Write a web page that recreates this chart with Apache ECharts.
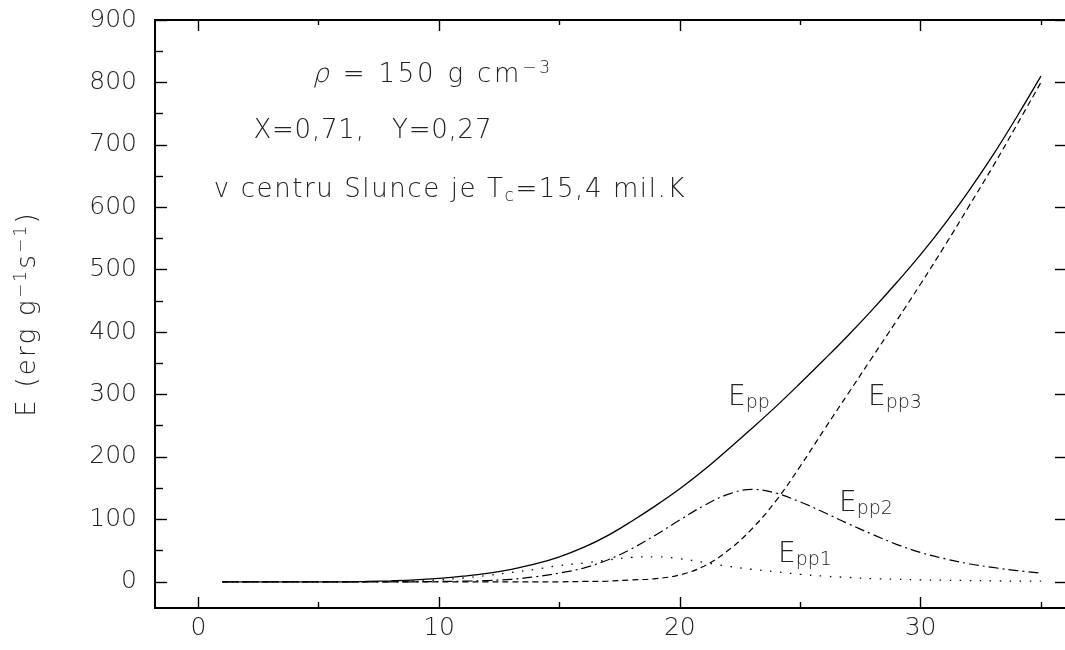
<!DOCTYPE html>
<html>
<head>
<meta charset="utf-8">
<script src="https://cdn.jsdelivr.net/npm/echarts@6/dist/echarts.min.js"></script>
<style>
  html, body { margin: 0; padding: 0; background: #fff; }
  #main { width: 1065px; height: 650px; }
</style>
</head>
<body>
<div id="main"></div>
<script>
  // teplota (mil. K)
  var temps = [1, 2, 3, 4, 5, 6, 7, 8, 9, 10, 11, 12, 13, 14, 15, 16, 17, 18, 19, 20,
    21, 22, 23, 24, 25, 26, 27, 28, 29, 30, 31, 32, 33, 34, 35];
  // E_pp celkem (plna cara)
  var ePP = [0, 0, 0, 0, 0, 0, 0.5, 1.5, 3, 5.5, 9, 13.5, 20, 28.5, 40, 55, 74, 97, 122, 149,
    179, 212, 246, 281, 318, 356, 395, 436, 479, 524, 573, 626, 683, 745, 810];
  // E_pp1 (tecky)
  var ePP1 = [0, 0, 0, 0, 0, 0, 0.2, 0.5, 1, 3, 6, 10, 15, 20, 26, 30, 35, 39, 40, 37,
    31, 25, 20, 16, 12, 9, 7, 5, 4, 3, 2.5, 2, 1.5, 1, 1];
  // E_pp2 (cerchovana)
  var ePP2 = [0, 0, 0, 0, 0, 0, 0, 0, 0, 0.5, 1, 2, 4, 8, 14, 22, 35, 53, 75, 99,
    122, 140, 148, 142, 128, 111, 93, 76, 60, 47, 37, 29, 23, 18, 14];
  // E_pp3 (carkovana)
  var ePP3 = [0, 0, 0, 0, 0, 0, 0, 0, 0, 0, 0, 0, 0, 0, 0, 0.5, 1, 3, 5, 11,
    25, 50, 85, 130, 185, 244, 302, 360, 418, 477, 538, 601, 665, 732, 800];

  var xMajor = [0, 10, 20, 30];
  var xMinor = [5, 15, 25, 35];
  var yMajor = [0, 100, 200, 300, 400, 500, 600, 700, 800, 900];
  var yMinor = [50, 150, 250, 350, 450, 550, 650, 750, 850];

  var FONT = "'DejaVu Sans Light', 'DejaVu Sans', sans-serif";
  var TXT = '#222';

  function pairs(ys) {
    return temps.map(function (t, i) { return [t, ys[i]]; });
  }

  function lineSeries(name, data, type, width) {
    return {
      name: name,
      type: 'line',
      data: pairs(data),
      showSymbol: false,
      smooth: 0.4,
      silent: true,
      lineStyle: { color: '#000', width: width, type: type }
    };
  }

  // kazdy znak zvlast, aby slo pridat mezery mezi pismena
  function spaced(str, style) {
    return str.split('').map(function (c) { return '{' + style + '|' + c + '}'; }).join('');
  }

  function makeRich(pad) {
    var p = [0, pad];
    return {
      n: { fontFamily: FONT, fontWeight: 200, fontSize: 26, color: TXT, lineHeight: 30, padding: p },
      i: { fontFamily: FONT, fontWeight: 200, fontSize: 26, fontStyle: 'italic', color: TXT, lineHeight: 30, padding: p },
      sup: { fontFamily: FONT, fontWeight: 200, fontSize: 17, color: TXT, verticalAlign: 'top', lineHeight: 17, padding: p },
      sub: { fontFamily: FONT, fontWeight: 200, fontSize: 17, color: TXT, verticalAlign: 'bottom', lineHeight: 17, padding: p }
    };
  }

  function txt(x, y, text, rich, align) {
    return {
      type: 'text',
      x: x,
      y: y,
      silent: true,
      style: {
        text: text,
        rich: rich,
        fill: TXT,
        fontFamily: FONT,
        fontWeight: 200,
        fontSize: 26,
        align: align || 'left',
        verticalAlign: 'middle',
        textAlign: align || 'left',
        textVerticalAlign: 'middle'
      }
    };
  }

  var labRich = {
    e: { fontFamily: FONT, fontWeight: 200, fontSize: 28, color: TXT, lineHeight: 30 },
    s: { fontFamily: FONT, fontWeight: 200, fontSize: 19, color: TXT, verticalAlign: 'bottom', lineHeight: 19 }
  };

  var yName = spaced('E (erg g', 'n') + spaced('−1', 'sup') + spaced('s', 'n') +
    spaced('−1', 'sup') + spaced(')', 'n');
  var rhoText = spaced('ρ', 'i') + spaced(' = 150 g cm', 'n') + spaced('−3', 'sup');
  var xyText = spaced('X=0,71,   Y=0,27', 'n');
  var tcText = spaced('v centru Slunce je T', 'n') + spaced('c', 'sub') + spaced('=15,4 mil.K', 'n');

  var tickLine = { color: '#000', width: 1.4 };
  var frameLine = { color: '#000', width: 2 };

  var myChart = echarts.init(document.getElementById('main'));
  myChart.setOption({
    animation: false,
    backgroundColor: '#fff',
    grid: { left: 155, right: -5, top: 20, bottom: 42 },
    xAxis: [
      {
        type: 'value', position: 'bottom', min: -1.8, max: 36,
        axisLine: { show: true, onZero: false, lineStyle: frameLine },
        axisTick: { show: true, inside: true, length: 11, customValues: xMajor, lineStyle: tickLine },
        axisLabel: {
          show: true, customValues: xMajor, margin: 8,
          fontFamily: FONT, fontWeight: 200, fontSize: 25, color: TXT
        },
        splitLine: { show: false }
      },
      {
        type: 'value', position: 'bottom', min: -1.8, max: 36,
        axisLine: { show: false, onZero: false },
        axisTick: { show: true, inside: true, length: 6, customValues: xMinor, lineStyle: tickLine },
        axisLabel: { show: false },
        splitLine: { show: false }
      },
      {
        type: 'value', position: 'top', min: -1.8, max: 36,
        axisLine: { show: true, onZero: false, lineStyle: frameLine },
        axisTick: { show: true, inside: true, length: 11, customValues: xMajor, lineStyle: tickLine },
        axisLabel: { show: false },
        splitLine: { show: false }
      },
      {
        type: 'value', position: 'top', min: -1.8, max: 36,
        axisLine: { show: false, onZero: false },
        axisTick: { show: true, inside: true, length: 5, customValues: xMinor, lineStyle: tickLine },
        axisLabel: { show: false },
        splitLine: { show: false }
      }
    ],
    yAxis: [
      {
        type: 'value', position: 'left', min: -42, max: 900,
        axisLine: { show: true, onZero: false, lineStyle: frameLine },
        axisTick: { show: true, inside: true, length: 12, customValues: yMajor, lineStyle: tickLine },
        axisLabel: {
          show: true, customValues: yMajor, margin: 18,
          fontFamily: FONT, fontWeight: 200, fontSize: 25, color: TXT
        },
        splitLine: { show: false }
      },
      {
        type: 'value', position: 'left', min: -42, max: 900,
        axisLine: { show: false, onZero: false },
        axisTick: { show: true, inside: true, length: 8, customValues: yMinor, lineStyle: tickLine },
        axisLabel: { show: false },
        splitLine: { show: false }
      },
      {
        type: 'value', position: 'right', min: -42, max: 900,
        axisLine: { show: false, onZero: false },
        axisTick: { show: true, inside: true, length: 10, customValues: yMajor, lineStyle: tickLine },
        axisLabel: { show: false },
        splitLine: { show: false }
      }
    ],
    series: [
      lineSeries('Epp', ePP, 'solid', 1.3),
      lineSeries('Epp1', ePP1, [1.5, 8.5], 1.3),
      lineSeries('Epp2', ePP2, [10, 4, 2, 4], 1.2),
      lineSeries('Epp3', ePP3, [6, 4], 1.2)
    ],
    graphic: [
      // popis osy y
      {
        type: 'text', x: 28, y: 315, rotation: Math.PI / 2, silent: true,
        style: {
          text: yName,
          rich: makeRich(1.1), fill: TXT, fontFamily: FONT, fontWeight: 200, fontSize: 26,
          align: 'center', verticalAlign: 'middle', textAlign: 'center', textVerticalAlign: 'middle'
        }
      },
      txt(311, 75, rhoText, makeRich(1.4)),
      txt(253, 131, xyText, makeRich(0.4)),
      txt(213, 190, tcText, makeRich(0.8)),
      txt(728, 398, '{e|E}{s|pp}', labRich),
      txt(868, 398, '{e|E}{s|pp3}', labRich),
      txt(839, 504, '{e|E}{s|pp2}', labRich),
      txt(778, 555, '{e|E}{s|pp1}', labRich)
    ]
  });
</script>
</body>
</html>
